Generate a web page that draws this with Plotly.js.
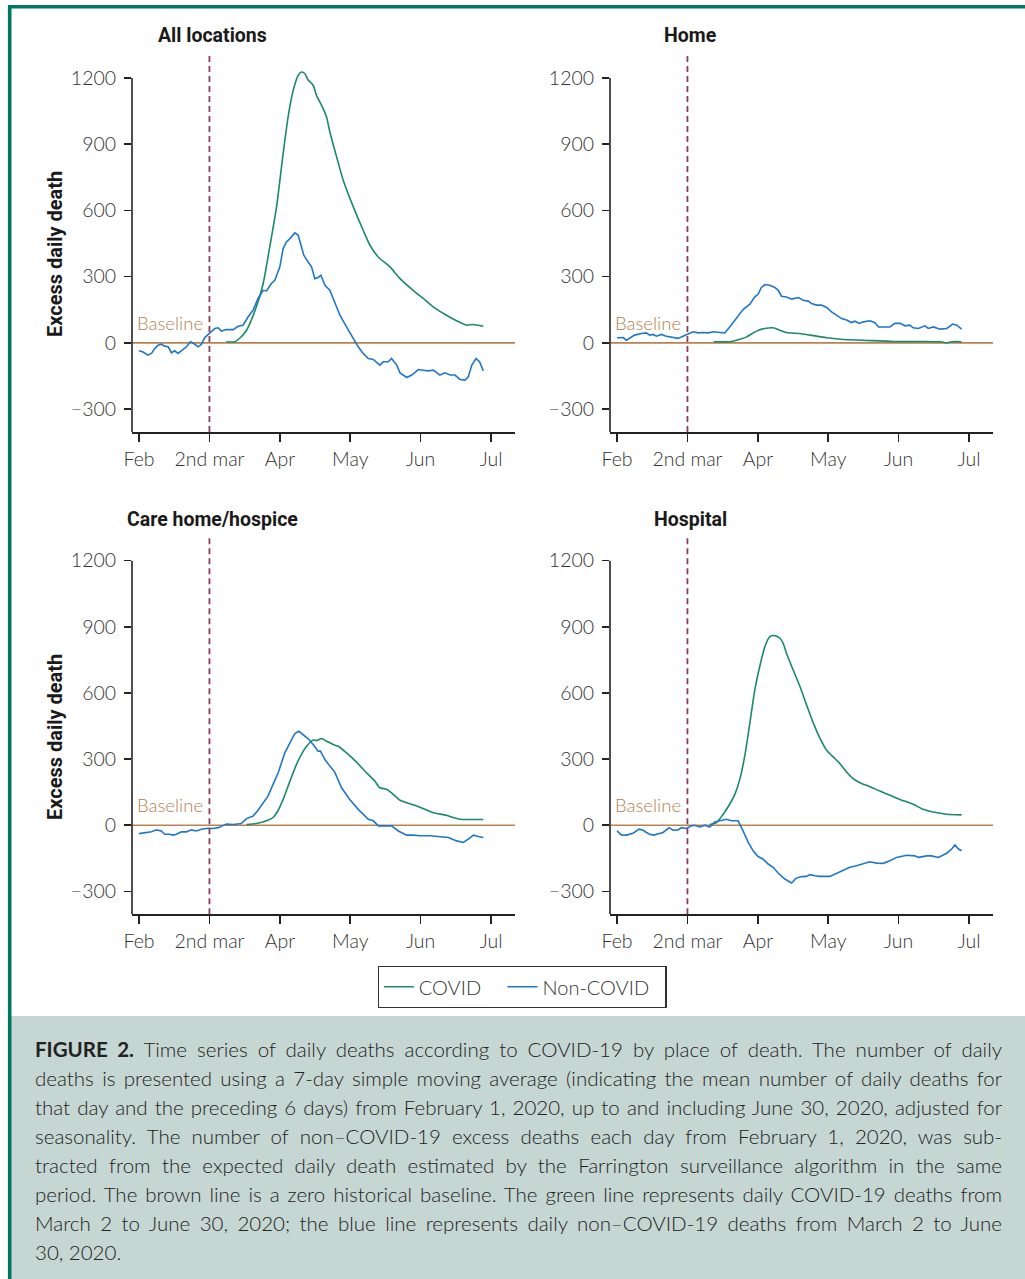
<!DOCTYPE html>
<html>
<head>
<meta charset="utf-8">
<script src="https://cdn.plot.ly/plotly-3.0.1.min.js"></script>
<style>
  html, body { margin: 0; padding: 0; background: #ffffff; }
  #chart { width: 1025px; height: 1279px; }
</style>
</head>
<body>
<div id="chart"></div>
<script>
// ---------- DATA (days since February 1, 2020; excess daily deaths) ----------
var tickDays = [0, 30, 60, 90, 120, 150];
var tickLabels = ['Feb', '2nd mar', 'Apr', 'May', 'Jun', 'Jul'];
var yTickVals = [-300, 0, 300, 600, 900, 1200];
var yTickLabels = ['\u2212300', '0', '300', '600', '900', '1200'];
var panelTitles = ['All locations', 'Home', 'Care home/hospice', 'Hospital'];
var seriesNames = ['COVID', 'Non-COVID'];

// All locations
var allCovidDays = [37.2, 40.8, 43.0, 45.8, 50.0, 52.9, 55.7, 58.6, 61.4, 63.5, 65.7, 67.8, 69.2, 70.6, 72.0, 74.2, 75.6, 77.8, 79.9, 81.3, 84.2, 87.0, 91.3, 95.5, 98.4, 101.9, 106.9, 111.2, 116.8, 121.1, 125.4, 131.0, 135.3, 139.6, 142.4, 146.7];
var allCovidVals = [5, 5, 22, 57, 163, 269, 435, 616, 857, 1023, 1144, 1212, 1227, 1220, 1192, 1167, 1121, 1076, 1023, 955, 842, 737, 616, 510, 442, 389, 344, 291, 238, 201, 163, 125, 100, 80, 83, 75];
var allNonDays = [0, 1.7, 3.8, 5.3, 6.7, 8.1, 9.5, 10.9, 12.4, 13.8, 15.2, 16.6, 18.8, 20.2, 21.9, 23.3, 25.2, 26.6, 28.0, 30.1, 32.3, 33.7, 35.1, 37.2, 40.1, 42.2, 44.3, 46.5, 48.6, 50.7, 52.9, 54.3, 56.4, 57.9, 60.0, 61.4, 62.8, 64.3, 66.4, 67.8, 69.2, 70.2, 72.0, 73.5, 74.9, 76.3, 77.5, 79.2, 81.3, 83.4, 85.6, 88.4, 91.3, 93.4, 95.5, 97.7, 99.8, 102.6, 104.1, 106.2, 107.6, 109.8, 111.2, 114.1, 116.2, 119.0, 121.1, 123.2, 125.4, 128.2, 130.4, 132.5, 134.6, 136.8, 138.9, 140.3, 141.8, 143.6, 145.1, 146.7];
var allNonVals = [-36, -42, -56, -48, -26, -11, -6, -15, -18, -45, -36, -48, -30, -18, 5, -3, -18, -6, 24, 42, 65, 68, 53, 60, 60, 75, 80, 118, 148, 201, 238, 235, 269, 284, 344, 427, 457, 472, 498, 488, 435, 397, 367, 344, 291, 296, 306, 261, 238, 186, 125, 72, 20, -18, -48, -71, -75, -101, -86, -86, -71, -101, -136, -157, -146, -121, -124, -127, -124, -146, -136, -146, -146, -166, -169, -154, -101, -71, -86, -127];

// Home
var homeCovidDays = [41.2, 48.0, 50.9, 55.2, 59.4, 63.0, 66.5, 69.4, 72.2, 77.9, 82.2, 89.3, 96.4, 104.9, 117.7, 137.6, 140.5, 142.6, 146.8];
var homeCovidVals = [5, 5, 12, 27, 53, 65, 68, 57, 47, 42, 35, 23, 15, 12, 6, 5, 0, 5, 5];
var homeNonDays = [0, 1.8, 2.6, 4.0, 5.4, 7.5, 10.4, 12.5, 13.9, 15.4, 16.8, 18.9, 21.0, 23.9, 26.0, 28.1, 30.3, 32.4, 34.5, 36.7, 38.8, 41.2, 43.8, 45.9, 48.0, 50.9, 53.7, 56.6, 58.7, 60.1, 61.5, 63.0, 65.1, 67.2, 68.7, 70.1, 72.2, 74.4, 75.8, 77.2, 79.3, 81.5, 82.9, 85.0, 87.1, 89.3, 91.4, 93.5, 95.7, 97.8, 99.9, 101.4, 103.2, 104.9, 107.8, 109.9, 111.4, 113.4, 116.3, 118.4, 120.6, 122.7, 124.8, 126.2, 128.4, 131.2, 132.6, 134.8, 137.6, 140.5, 143.0, 144.8, 146.8];
var homeNonVals = [23, 23, 24, 12, 20, 35, 42, 45, 35, 38, 30, 38, 30, 23, 20, 30, 42, 50, 45, 47, 45, 50, 47, 45, 72, 113, 151, 175, 208, 220, 251, 264, 261, 251, 238, 211, 208, 198, 201, 205, 193, 189, 178, 171, 171, 160, 140, 125, 110, 103, 92, 98, 88, 95, 100, 91, 72, 72, 72, 88, 88, 77, 80, 68, 65, 77, 65, 72, 62, 65, 85, 80, 62];

// Care home / hospice
var careCovidDays = [45.8, 50.0, 54.3, 57.1, 59.3, 61.4, 64.3, 67.1, 69.2, 71.4, 74.2, 75.6, 77.8, 79.9, 82.7, 84.9, 88.4, 92.7, 96.9, 100.5, 102.6, 105.5, 108.3, 111.2, 114.0, 118.3, 122.5, 125.4, 131.0, 133.9, 136.7, 142.4, 146.7];
var careCovidVals = [3, 8, 20, 35, 68, 117, 200, 276, 321, 358, 386, 384, 393, 381, 366, 358, 328, 286, 238, 200, 170, 163, 140, 113, 102, 87, 69, 57, 45, 35, 27, 26, 26];
var careNonDays = [0, 3.1, 5.3, 7.4, 9.5, 10.9, 13.1, 14.5, 15.9, 18.1, 20.2, 22.3, 24.4, 26.6, 29.4, 31.6, 33.7, 35.5, 37.2, 40.1, 43.6, 45.8, 48.6, 50.7, 52.9, 55.0, 57.1, 59.3, 60.7, 62.1, 64.3, 66.4, 68.1, 69.9, 72.1, 74.2, 76.3, 77.3, 79.2, 81.3, 83.4, 86.3, 89.8, 93.4, 96.2, 97.7, 99.8, 102.0, 105.5, 107.6, 110.5, 114.0, 116.9, 119.7, 124.0, 128.2, 131.8, 135.3, 138.2, 140.3, 142.5, 144.6, 146.7];
var careNonVals = [-38, -33, -30, -21, -26, -41, -41, -45, -41, -30, -30, -21, -26, -18, -14, -15, -11, -3, 5, 3, 8, 30, 42, 68, 102, 133, 185, 238, 283, 328, 373, 416, 426, 411, 392, 366, 336, 336, 298, 268, 241, 170, 117, 72, 45, 27, 20, -3, -3, -3, -26, -45, -45, -48, -48, -51, -56, -71, -78, -63, -45, -51, -56];

// Hospital
var hospCovidDays = [39.5, 42.4, 45.2, 48.0, 50.2, 52.3, 54.4, 56.6, 58.7, 60.8, 63.0, 65.1, 67.2, 69.4, 70.8, 72.2, 75.0, 77.9, 80.7, 83.6, 86.4, 89.3, 92.1, 94.9, 97.8, 100.6, 103.5, 107.7, 112.0, 116.3, 120.5, 126.2, 130.4, 134.7, 140.4, 146.8];
var hospCovidVals = [3, 12, 50, 95, 140, 208, 313, 464, 614, 720, 810, 855, 860, 848, 825, 780, 705, 630, 547, 464, 396, 340, 310, 280, 241, 211, 193, 175, 155, 136, 117, 95, 72, 60, 50, 47];
var hospNonDays = [0, 1.8, 4.0, 6.8, 9.4, 11.1, 12.5, 13.9, 15.6, 17.5, 19.6, 22.2, 23.9, 26.0, 27.4, 29.6, 31.7, 33.1, 35.3, 37.4, 39.5, 41.6, 44.5, 46.6, 48.8, 51.6, 53.7, 55.9, 58.0, 60.1, 62.3, 64.4, 66.5, 68.7, 71.5, 74.4, 76.2, 78.6, 80.7, 82.2, 84.3, 86.4, 90.7, 93.5, 96.4, 99.2, 102.0, 104.9, 107.7, 110.6, 113.4, 116.3, 119.1, 123.4, 126.9, 128.4, 131.9, 134.0, 136.9, 140.5, 142.6, 144.0, 145.5, 146.8];
var hospNonVals = [-26, -44, -45, -36, -18, -23, -33, -41, -45, -38, -33, -11, -23, -21, -11, -15, -3, 0, -8, 0, -8, 15, 20, 27, 20, 20, -26, -78, -116, -142, -154, -176, -191, -218, -244, -262, -241, -233, -232, -224, -229, -232, -232, -218, -202, -191, -184, -173, -166, -172, -173, -161, -146, -136, -139, -146, -139, -139, -146, -127, -108, -90, -108, -116];

var captionLines = [
  '<b>FIGURE 2.</b> Time series of daily deaths according to COVID-19 by place of death. The number of daily',
  'deaths is presented using a 7-day simple moving average (indicating the mean number of daily deaths for',
  'that day and the preceding 6 days) from February 1, 2020, up to and including June 30, 2020, adjusted for',
  'seasonality. The number of non\u2013COVID-19 excess deaths each day from February 1, 2020, was sub-',
  'tracted from the expected daily death estimated by the Farrington surveillance algorithm in the same',
  'period. The brown line is a zero historical baseline. The green line represents daily COVID-19 deaths from',
  'March 2 to June 30, 2020; the blue line represents daily non\u2013COVID-19 deaths from March 2 to June',
  '30, 2020.'
];

// ---------- STYLE ----------
var W = 1025, H = 1279;
var GREEN = '#1a8a69', BLUE = '#1f77c9', BROWN = '#b98250', MAROON = '#8c3b5b', AXIS = '#222222';
var TEAL = '#00785f';
var LIGHT = 'Lato, "Open Sans", sans-serif';
var tickFont = {family: LIGHT, size: 19.5, color: '#333333', weight: 300};
var titleFont = {family: 'Roboto, "Open Sans", sans-serif', size: 19.5, color: '#1a1a1a', weight: 700};

function px(x) { return x / W; }
function py(y) { return 1 - y / H; }

var panels = [
  {cov: [allCovidDays, allCovidVals], non: [allNonDays, allNonVals], xd: [132, 515], yd: [55, 432]},
  {cov: [homeCovidDays, homeCovidVals], non: [homeNonDays, homeNonVals], xd: [610, 993], yd: [55, 432]},
  {cov: [careCovidDays, careCovidVals], non: [careNonDays, careNonVals], xd: [132, 515], yd: [537.7, 914.3]},
  {cov: [hospCovidDays, hospCovidVals], non: [hospNonDays, hospNonVals], xd: [610, 993], yd: [537.7, 914.3]}
];

var data = [];
var layout = {
  width: W, height: H,
  margin: {l: 0, r: 0, t: 0, b: 0},
  paper_bgcolor: '#ffffff', plot_bgcolor: 'rgba(0,0,0,0)',
  showlegend: true,
  legend: {
    orientation: 'h', x: 0.5093, xanchor: 'center', y: py(966), yanchor: 'top',
    bordercolor: '#333333', borderwidth: 1.3, bgcolor: '#ffffff',
    font: {family: LIGHT, size: 20, color: '#333333', weight: 300},
    traceorder: 'normal'
  },
  shapes: [], annotations: []
};

var YMIN = -404, YMAX = 1304;

panels.forEach(function (p, i) {
  var n = i === 0 ? '' : String(i + 1);
  var xa = 'x' + n, ya = 'y' + n;
  data.push({
    x: p.cov[0], y: p.cov[1], xaxis: xa, yaxis: ya, type: 'scatter', mode: 'lines',
    name: seriesNames[0] + '\u00a0\u00a0\u00a0', legendgroup: 'c', showlegend: i === 0,
    line: {color: GREEN, width: 1.6, shape: 'spline', smoothing: 0.6}
  });
  data.push({
    x: p.non[0], y: p.non[1], xaxis: xa, yaxis: ya, type: 'scatter', mode: 'lines',
    name: seriesNames[1] + '\u00a0\u00a0', legendgroup: 'n', showlegend: i === 0,
    line: {color: BLUE, width: 1.6}
  });
  layout['xaxis' + n] = {
    domain: [px(p.xd[0]), px(p.xd[1])], anchor: ya, range: [-3, 160.2],
    tickmode: 'array', tickvals: tickDays, ticktext: tickLabels,
    ticks: 'outside', ticklen: 8, tickwidth: 1.6, tickcolor: AXIS, ticklabelstandoff: 1,
    showline: true, linecolor: AXIS, linewidth: 1.6,
    showgrid: false, zeroline: false, tickfont: tickFont, fixedrange: true
  };
  layout['yaxis' + n] = {
    domain: [py(p.yd[1]), py(p.yd[0])], anchor: xa, range: [YMIN, YMAX],
    tickmode: 'array', tickvals: yTickVals, ticktext: yTickLabels,
    ticks: 'outside', ticklen: 7, tickwidth: 1.6, tickcolor: AXIS, ticklabelstandoff: 4,
    showline: false, showgrid: false, zeroline: false, tickfont: tickFont, fixedrange: true
  };
  // y axis line (from bottom to the 1200 tick)
  layout.shapes.push({type: 'line', xref: xa + ' domain', yref: ya, x0: 0, x1: 0, y0: YMIN, y1: 1200,
    line: {color: AXIS, width: 1.6}});
  // zero baseline
  layout.shapes.push({type: 'line', xref: xa + ' domain', yref: ya, x0: 0, x1: 1, y0: 0, y1: 0,
    line: {color: BROWN, width: 1.6}, layer: 'below'});
  // 2nd March marker
  layout.shapes.push({type: 'line', xref: xa, yref: ya + ' domain', x0: tickDays[1], x1: tickDays[1], y0: 0, y1: 1,
    line: {color: MAROON, width: 1.8, dash: '6px,4px'}});
  // Baseline label
  layout.annotations.push({xref: xa, yref: ya, x: tickDays[1], y: 90, xanchor: 'right', yanchor: 'middle',
    xshift: -4, text: 'Baseline', showarrow: false,
    font: {family: LIGHT, size: 18.5, color: '#b5804c', weight: 300}});
  // Panel title
  layout.annotations.push({xref: xa, yref: 'paper', x: tickDays[1], y: py(i < 2 ? 36 : 519),
    xanchor: 'center', yanchor: 'middle', xshift: 3, text: panelTitles[i], showarrow: false, font: titleFont});
  // Y title for left panels
  if (i % 2 === 0) {
    layout.annotations.push({xref: 'paper', yref: 'paper', x: px(55), y: py(i === 0 ? 254 : 737),
      xanchor: 'center', yanchor: 'middle', textangle: -90, text: 'Excess daily death',
      showarrow: false, font: {family: titleFont.family, size: 20, color: '#1a1a1a', weight: 700}});
  }
});

// Caption box and frame
layout.shapes.push({type: 'rect', xref: 'paper', yref: 'paper', x0: px(11), x1: 1, y0: 0, y1: py(1016),
  fillcolor: '#c6d6d2', line: {width: 0}, layer: 'below'});
layout.shapes.push({type: 'line', xref: 'paper', yref: 'paper', x0: px(9.7), x1: px(9.7), y0: 0, y1: py(5),
  line: {color: TEAL, width: 3.6}});
layout.shapes.push({type: 'line', xref: 'paper', yref: 'paper', x0: px(8), x1: 1, y0: py(6.8), y1: py(6.8),
  line: {color: TEAL, width: 3.6}});

var captionStart = layout.annotations.length;
captionLines.forEach(function (t, k) {
  layout.annotations.push({xref: 'paper', yref: 'paper', x: px(33), y: py(1049 + 29 * k),
    xanchor: 'left', yanchor: 'middle', align: 'left', text: t, showarrow: false,
    font: {family: LIGHT, size: 20.5, color: '#222222', weight: 300}});
});

var gd = document.getElementById('chart');
Plotly.newPlot(gd, data, layout, {staticPlot: true, displayModeBar: false}).then(function () {
  // justify caption lines (all but the last) to the caption width
  var target = 1000 - 33;
  for (var k = 0; k < captionLines.length - 1; k++) {
    var g = gd.querySelector('g.annotation[data-index="' + (captionStart + k) + '"]');
    if (!g) continue;
    var txt = g.querySelector('text');
    if (!txt) continue;
    var w = txt.getComputedTextLength();
    var spaces = captionLines[k].replace(/<[^>]+>/g, '').split(' ').length - 1;
    if (spaces > 0) txt.style.wordSpacing = ((target - w) / spaces) + 'px';
  }
});
</script>
</body>
</html>
